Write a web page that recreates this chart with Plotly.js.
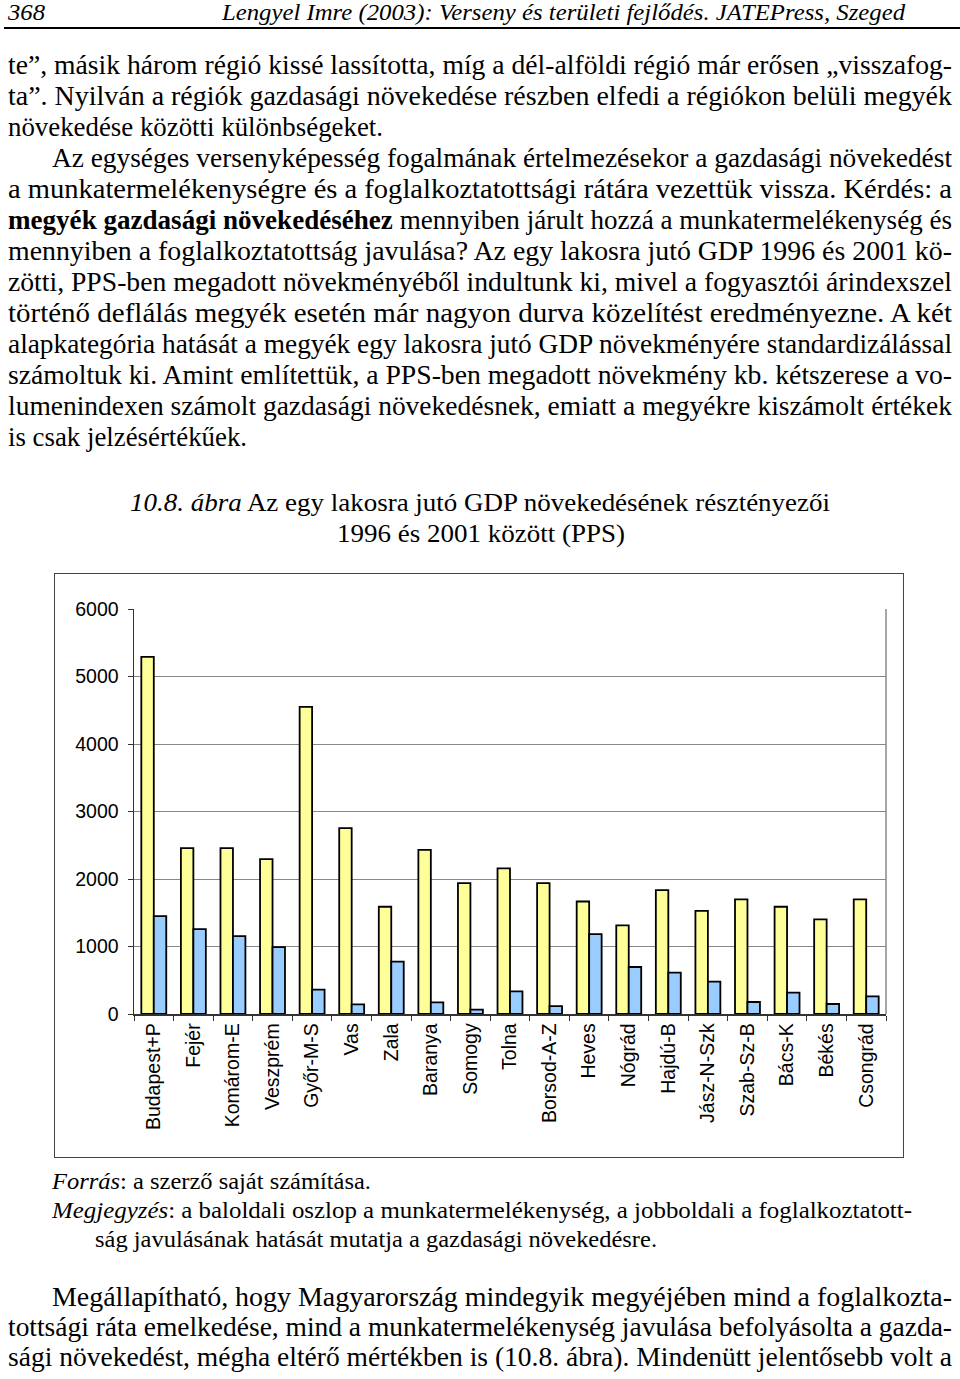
<!DOCTYPE html>
<html>
<head>
<meta charset="utf-8">
<script src="https://cdn.plot.ly/plotly-3.0.1.min.js"></script>
<style>
  html, body { margin:0; padding:0; background:#fff; }
  body { width:960px; height:1379px; position:relative; overflow:hidden; }
  .ln { position:absolute; white-space:nowrap; font-family:"Liberation Serif","Times New Roman",serif; color:#000; transform-origin:0 0; }
  #rule { position:absolute; left:4px; top:27px; width:956px; height:2px; background:#000; }
  #chartbox { position:absolute; left:54px; top:573px; width:850px; height:585px; }
  #frame { position:absolute; left:54px; top:573px; width:848px; height:583px; border:1px solid #444; pointer-events:none; }
</style>
</head>
<body>
<div id="rule"></div>
<div id="chartbox"></div>
<div id="frame"></div>
<script>
// ---- chart data ----
const counties = ['Budapest+P','Fejér','Komárom-E','Veszprém','Győr-M-S','Vas','Zala','Baranya','Somogy','Tolna','Borsod-A-Z','Heves','Nógrád','Hajdú-B','Jász-N-Szk','Szab-Sz-B','Bács-K','Békés','Csongrád'];
const productivity = [5290, 2457, 2457, 2294, 4549, 2753, 1589, 2432, 1939, 2156, 1939, 1667, 1312, 1835, 1529, 1697, 1589, 1401, 1697];
const employment   = [1450, 1258, 1154, 992, 360, 143, 775, 173, 64, 335, 118, 1184, 696, 612, 479, 178, 316, 148, 261];
const yTicks = [0, 1000, 2000, 3000, 4000, 5000, 6000];

// ---- page text ----
const textLines = [
  {h:'<i>368</i>', x:8, w:37, b:20, fs:24},
  {h:'<i>Lengyel Imre (2003): Verseny és területi fejlődés. JATEPress, Szeged</i>', x:222, w:683, b:20, fs:24},
  {h:'te”, másik három régió kissé lassította, míg a dél-alföldi régió már erősen „visszafog-', x:8, w:944, b:75, fs:27},
  {h:'ta”. Nyilván a régiók gazdasági növekedése részben elfedi a régiókon belüli megyék', x:8, w:944, b:106, fs:27},
  {h:'növekedése közötti különbségeket.', x:8, w:375, b:137, fs:27},
  {h:'Az egységes versenyképesség fogalmának értelmezésekor a gazdasági növekedést', x:52, w:900, b:168, fs:27},
  {h:'a munkatermelékenységre és a foglalkoztatottsági rátára vezettük vissza. Kérdés: a', x:8, w:944, b:199, fs:27},
  {h:'<b>megyék gazdasági növekedéséhez</b> mennyiben járult hozzá a munkatermelékenység és', x:8, w:944, b:230, fs:27},
  {h:'mennyiben a foglalkoztatottság javulása? Az egy lakosra jutó GDP 1996 és 2001 kö-', x:8, w:944, b:261, fs:27},
  {h:'zötti, PPS-ben megadott növekményéből indultunk ki, mivel a fogyasztói árindexszel', x:8, w:944, b:292, fs:27},
  {h:'történő deflálás megyék esetén már nagyon durva közelítést eredményezne. A két', x:8, w:944, b:323, fs:27},
  {h:'alapkategória hatását a megyék egy lakosra jutó GDP növekményére standardizálással', x:8, w:944, b:354, fs:27},
  {h:'számoltuk ki. Amint említettük, a PPS-ben megadott növekmény kb. kétszerese a vo-', x:8, w:944, b:385, fs:27},
  {h:'lumenindexen számolt gazdasági növekedésnek, emiatt a megyékre kiszámolt értékek', x:8, w:944, b:416, fs:27},
  {h:'is csak jelzésértékűek.', x:8, w:239, b:447, fs:27},
  {h:'<i>10.8. ábra</i> Az egy lakosra jutó GDP növekedésének résztényezői', x:130, w:700, b:512, fs:26},
  {h:'1996 és 2001 között (PPS)', x:337, w:288, b:543, fs:26},
  {h:'<i>Forrás</i>: a szerző saját számítása.', x:52, w:319, b:1189, fs:23},
  {h:'<i>Megjegyzés</i>: a baloldali oszlop a munkatermelékenység, a jobboldali a foglalkoztatott-', x:52, w:860, b:1218, fs:23},
  {h:'ság javulásának hatását mutatja a gazdasági növekedésre.', x:95, w:562, b:1247, fs:23},
  {h:'Megállapítható, hogy Magyarország mindegyik megyéjében mind a foglalkozta-', x:52, w:900, b:1307, fs:27},
  {h:'tottsági ráta emelkedése, mind a munkatermelékenység javulása befolyásolta a gazda-', x:8, w:944, b:1337, fs:27},
  {h:'sági növekedést, mégha eltérő mértékben is (10.8. ábra). Mindenütt jelentősebb volt a', x:8, w:944, b:1367, fs:27}
];

textLines.forEach(function(L){
  const d = document.createElement('div');
  d.className = 'ln';
  d.innerHTML = L.h;
  d.style.fontSize = L.fs + 'px';
  d.style.lineHeight = L.fs + 'px';
  d.style.left = L.x + 'px';
  d.style.top = (L.b - 0.8375 * L.fs) + 'px';
  document.body.appendChild(d);
  const nat = d.getBoundingClientRect().width;
  d.style.transform = 'scaleX(' + (L.w / nat) + ')';
});

// ---- chart ----
const axisFont = {family:'"Liberation Sans", Arial, sans-serif', size:19.5, color:'#000'};
const traces = [
  {type:'bar', x:counties, y:productivity, name:'munkatermelékenység',
   marker:{color:'#FFFF99', line:{color:'#000', width:1.8}}, hoverinfo:'x+y'},
  {type:'bar', x:counties, y:employment, name:'foglalkoztatottság',
   marker:{color:'#99CCFF', line:{color:'#000', width:1.8}}, hoverinfo:'x+y'}
];
const layout = {
  width:850, height:585,
  margin:{l:80, r:18, t:36, b:144, pad:0},
  paper_bgcolor:'rgba(0,0,0,0)', plot_bgcolor:'#fff',
  showlegend:false,
  barmode:'group', bargap:0.37, bargroupgap:0,
  xaxis:{type:'category', tickangle:-90, tickfont:axisFont,
         showline:true, linecolor:'#333', linewidth:1.5,
         ticks:'outside', ticklen:5, tickcolor:'#333', tickwidth:1, tickson:'boundaries',
         showgrid:false, zeroline:false, automargin:false},
  yaxis:{range:[0,6000], tickvals:yTicks, ticktext:yTicks.map(String), tickfont:axisFont,
         showline:true, linecolor:'#333', linewidth:1.5,
         ticks:'outside', ticklen:5, tickcolor:'#333', tickwidth:1, ticklabelstandoff:5,
         showgrid:true, gridcolor:'#888', gridwidth:1, zeroline:false, automargin:false},
  shapes:[{type:'line', xref:'paper', yref:'y', x0:1, x1:1, y0:0, y1:6000, line:{color:'#888', width:1.5}}]
};
Plotly.newPlot('chartbox', traces, layout, {displayModeBar:false, staticPlot:true});
</script>
</body>
</html>
